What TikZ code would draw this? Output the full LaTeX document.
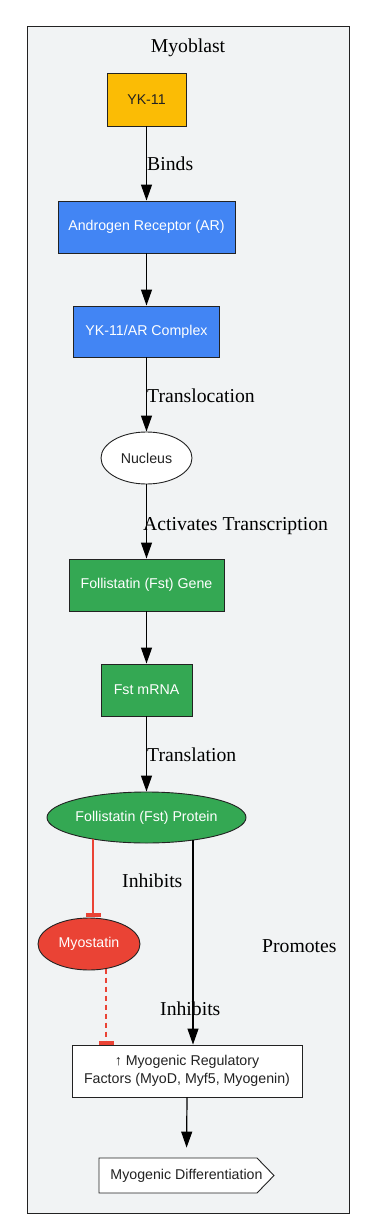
\documentclass[tikz,border=0pt]{standalone}
\usepackage{fontspec}
\setmainfont{Liberation Serif}
\newfontfamily\nodefont{Liberation Sans}
\usetikzlibrary{arrows.meta,shapes.geometric}
\definecolor{ykorange}{HTML}{FBBC05}
\definecolor{gblue}{HTML}{4285F4}
\definecolor{ggreen}{HTML}{34A853}
\definecolor{gred}{HTML}{EA4335}
\definecolor{clbg}{HTML}{F1F3F4}
\definecolor{bord}{HTML}{222222}
\definecolor{txt}{HTML}{222222}
\begin{document}
\begin{tikzpicture}[x=1pt,y=-1pt,
  base/.style={draw=bord,line width=0.9pt,inner sep=0pt,
    font=\nodefont\fontsize{14.2}{18}\selectfont},
  boxnode/.style={base,rectangle},
  ellnode/.style={base,ellipse},
  elabel/.style={anchor=base west,inner sep=0pt,font=\fontsize{19.7}{23}\selectfont},
  arr/.style={line width=1.2pt,-{Triangle[length=16pt,width=11pt]}},
  inh/.style={line width=1.2pt,draw=gred,-{Rectangle[length=4pt,width=15pt]}},
]
\useasboundingbox (0,0) rectangle (366,1230);
\fill[white] (0,0) rectangle (366,1230);
\draw[fill=clbg,draw=bord,line width=1pt] (27,27) rectangle (349,1213);
\node[anchor=base,inner sep=0pt,font=\fontsize{19.7}{23}\selectfont] (title) at (188,53) {Myoblast};

\node[boxnode,fill=ykorange,text=txt,minimum width=79pt,minimum height=53pt] (yk) at (146.5,99.5) {YK-11};
\node[boxnode,fill=gblue,text=white,minimum width=177pt,minimum height=52pt] (ar) at (146.5,227) {Androgen Receptor (AR)};
\node[boxnode,fill=gblue,text=white,minimum width=146pt,minimum height=51pt] (cx) at (146.5,331.5) {YK-11/AR Complex};
\node[ellnode,fill=white,text=txt,minimum width=91pt,minimum height=52pt] (nuc) at (146.5,458) {\makebox[0pt]{Nucleus}};
\node[boxnode,fill=ggreen,text=white,minimum width=155pt,minimum height=52pt] (gene) at (146.5,585) {Follistatin (Fst) Gene};
\node[boxnode,fill=ggreen,text=white,minimum width=91pt,minimum height=52pt] (mrna) at (146.5,690) {Fst mRNA};
\node[ellnode,fill=ggreen,text=white,minimum width=199pt,minimum height=51pt] (prot) at (146.5,817.5) {\makebox[0pt]{Follistatin (Fst) Protein}};
\node[ellnode,fill=gred,text=white,minimum width=102pt,minimum height=52pt] (myo) at (89,944) {\makebox[0pt]{Myostatin}};
\node[boxnode,fill=white,text=txt,minimum width=230pt,minimum height=52pt,align=center] (mrf) at (187,1071) {↑ Myogenic Regulatory\\Factors (MyoD, Myf5, Myogenin)};

\draw[fill=white,draw=bord,line width=0.9pt] (99,1158) -- (257,1158) -- (274,1175.5) -- (257,1193) -- (99,1193) -- cycle;
\node[base,draw=none,text=txt,minimum width=175pt,minimum height=35pt] (diff) at (186.5,1175.5) {Myogenic Differentiation};

\draw[arr] (yk.south) -- (ar.north);
\draw[arr] (ar.south) -- (cx.north);
\draw[arr] (cx.south) -- (nuc.north);
\draw[arr] (nuc.south) -- (gene.north);
\draw[arr] (gene.south) -- (mrna.north);
\draw[arr] (mrna.south) -- (prot.north);
\draw[inh] ([xshift=-53.5pt,yshift=-21.5pt]prot.center) -- ([xshift=4pt,yshift=1pt]myo.north);
\draw[inh,dash pattern=on 5pt off 4pt] ([xshift=17pt,yshift=-24.5pt]myo.center) -- ([xshift=-81pt]mrf.north);
\draw[arr] ([xshift=46.5pt,yshift=-22.5pt]prot.center) -- ([xshift=6pt]mrf.north);
\draw[arr,shorten >=10pt] (mrf.south) -- (diff.north);

\node[elabel] (l1) at (147,171) {Binds};
\node[elabel] (l2) at (147,402) {Translocation};
\node[elabel] (l3) at (143,530) {Activates Transcription};
\node[elabel] (l4) at (147,761) {Translation};
\node[elabel] (l5) at (122,887) {Inhibits};
\node[elabel] (l6) at (262,952) {Promotes};
\node[elabel] (l7) at (160,1015) {Inhibits};
\end{tikzpicture}
\end{document}
